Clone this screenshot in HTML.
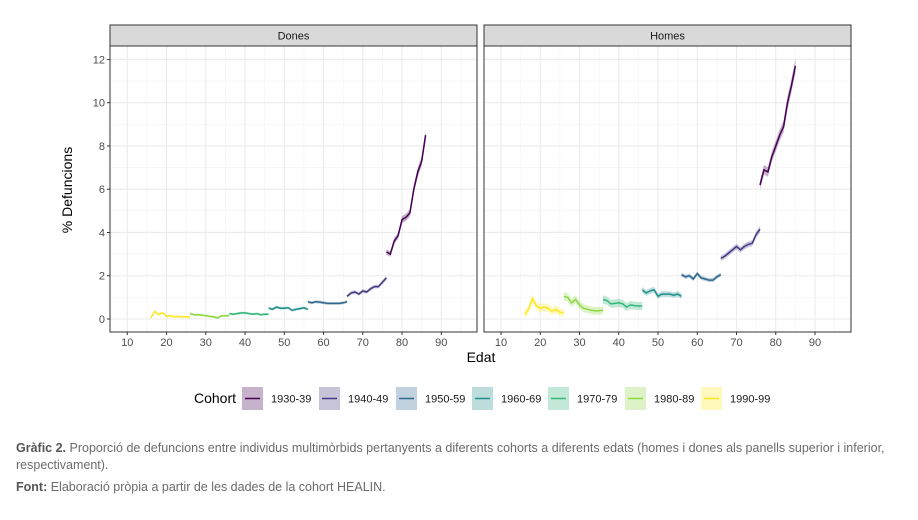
<!DOCTYPE html>
<html><head><meta charset="utf-8"><style>
body{margin:0;width:918px;height:520px;background:#fff;font-family:"Liberation Sans",sans-serif;overflow:hidden}
.cap{position:absolute;left:16px;width:890px;font-size:12.5px;color:#6b6b6b;line-height:17px}
.cap b{color:#555}
</style></head><body>
<svg id="s" width="918" height="430" style="position:absolute;left:0;top:0" xmlns="http://www.w3.org/2000/svg" font-family="Liberation Sans, sans-serif"></svg>
<div class="cap" style="top:440px"><b>Gràfic 2.</b> Proporció de defuncions entre individus multimòrbids pertanyents a diferents cohorts a diferents edats (homes i dones als panells superior i inferior, respectivament).</div>
<div class="cap" style="top:479px"><b>Font:</b> Elaboració pròpia a partir de les dades de la cohort HEALIN.</div>
<script>
const cols=["#440154","#443A83","#31688E","#21908C","#35B779","#8FD744","#FDE725"];
const labs=["1930-39","1940-49","1950-59","1960-69","1970-79","1980-89","1990-99"];
const dones=[
[76,[3.1,3.0,3.6,3.85,4.6,4.7,4.9,6.0,6.8,7.3,8.5]],
[66,[1.05,1.2,1.25,1.15,1.3,1.25,1.4,1.5,1.5,1.7,1.9]],
[56,[0.8,0.75,0.8,0.78,0.75,0.72,0.72,0.72,0.72,0.75,0.8]],
[46,[0.5,0.45,0.55,0.5,0.5,0.52,0.4,0.45,0.48,0.52,0.45]],
[36,[0.25,0.22,0.25,0.28,0.28,0.25,0.22,0.25,0.2,0.22,0.22]],
[26,[0.25,0.2,0.2,0.18,0.15,0.12,0.1,0.05,0.15,0.15,0.15]],
[16,[0.05,0.35,0.2,0.3,0.12,0.15,0.1,0.12,0.1,0.1,0.08]]];
const homes=[
[76,[6.2,6.9,6.8,7.5,8.0,8.5,8.9,10.0,10.8,11.7]],
[66,[2.8,2.9,3.05,3.2,3.35,3.2,3.35,3.45,3.5,3.9,4.15]],
[56,[2.05,1.95,2.0,1.85,2.1,1.9,1.85,1.8,1.8,1.95,2.05]],
[46,[1.35,1.2,1.3,1.35,1.05,1.15,1.15,1.15,1.1,1.15,1.05]],
[36,[0.9,0.85,0.7,0.72,0.75,0.7,0.55,0.65,0.62,0.6,0.6]],
[26,[1.05,1.0,0.75,0.9,0.65,0.5,0.45,0.4,0.38,0.38,0.4]],
[16,[0.2,0.45,0.95,0.6,0.5,0.55,0.5,0.35,0.45,0.3,0.3]]];
let h='';
const Y=v=>319-v*21.63;
function panel(x0,x1,x10,title,data,left,extra){
 const X=a=>x10+(a-10)*3.925;
 h+=`<rect x="${x0}" y="46" width="${x1-x0}" height="286" fill="#fff"/>`;
 for(let v=1;v<=11;v+=2)h+=`<line x1="${x0}" x2="${x1}" y1="${Y(v)}" y2="${Y(v)}" stroke="#f2f2f2" stroke-width="0.6"/>`;
 for(let a=15;a<=95;a+=10)h+=`<line y1="46" y2="332" x1="${X(a)}" x2="${X(a)}" stroke="#f2f2f2" stroke-width="0.6"/>`;
 for(let v=0;v<=12;v+=2)h+=`<line x1="${x0}" x2="${x1}" y1="${Y(v)}" y2="${Y(v)}" stroke="#ebebeb" stroke-width="1.1"/>`;
 for(let a=10;a<=90;a+=10){h+=`<line y1="46" y2="332" x1="${X(a)}" x2="${X(a)}" stroke="#ebebeb" stroke-width="1.1"/><line y1="332" y2="335" x1="${X(a)}" x2="${X(a)}" stroke="#333"/><text x="${X(a)}" y="346" font-size="11" fill="#4d4d4d" text-anchor="middle">${a}</text>`;}
 if(left)for(let v=0;v<=12;v+=2)h+=`<line x1="${x0-3}" x2="${x0}" y1="${Y(v)}" y2="${Y(v)}" stroke="#333"/><text x="${x0-5}" y="${Y(v)+4}" font-size="11" fill="#4d4d4d" text-anchor="end">${v}</text>`;
 data.forEach((d,i)=>{const [s,vals]=d;let up=[],dn=[],ln=[];
  vals.forEach((v,k)=>{const w=0.05+0.025*v+(extra&&i>=4?0.12:0)+(extra&&i==3?0.05:0);const x=X(s+k);up.push(x.toFixed(1)+','+Y(v+w).toFixed(1));dn.unshift(x.toFixed(1)+','+Y(Math.max(0,v-w)).toFixed(1));ln.push(x.toFixed(1)+','+Y(v).toFixed(1));});
  h+=`<polygon points="${up.concat(dn).join(' ')}" fill="${cols[i]}" fill-opacity="0.3"/><polyline points="${ln.join(' ')}" fill="none" stroke="${cols[i]}" stroke-width="1.5"/>`;});
 h+=`<rect x="${x0}" y="46" width="${x1-x0}" height="286" fill="none" stroke="#333" stroke-width="1"/>`;
 h+=`<rect x="${x0}" y="25" width="${x1-x0}" height="21" fill="#d9d9d9" stroke="#333" stroke-width="1"/><text x="${(x0+x1)/2}" y="39.5" font-size="11" fill="#1a1a1a" text-anchor="middle">${title}</text>`;
}
panel(110,477,127.3,"Dones",dones,true,false);
panel(484,851,501,"Homes",homes,false,true);
h+=`<text x="481" y="362" font-size="14" text-anchor="middle" fill="#000">Edat</text>`;
h+=`<text transform="translate(72,190) rotate(-90)" font-size="14" text-anchor="middle" fill="#000">% Defuncions</text>`;
h+=`<text x="194" y="403" font-size="14" fill="#000">Cohort</text>`;
const kx=[242,319,396,472,548,625,701];
kx.forEach((x,i)=>{h+=`<rect x="${x}" y="387" width="21" height="23" fill="${cols[i]}" fill-opacity="0.3"/><line x1="${x+3}" x2="${x+18}" y1="398.5" y2="398.5" stroke="${cols[i]}" stroke-width="1.5"/><text x="${x+29}" y="402.5" font-size="11" fill="#1a1a1a">${labs[i]}</text>`;});
document.getElementById('s').innerHTML=h;
</script>
</body></html>
